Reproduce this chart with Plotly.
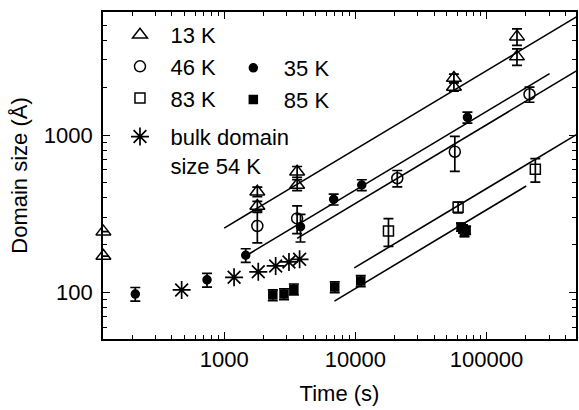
import plotly.graph_objects as go

# ---------------- data ----------------
t_13K = [120, 120, 1790, 1790, 3600, 3600, 56500, 56500, 171000, 171000]
d_13K = [243, 170, 436, 354, 584, 481, 2300, 2020, 4220, 3150]
e_13K = [0, 0, 0.07, 0.07, 0.08, 0.08, 0.06, 0.06, 0.12, 0.12]  # relative errors

t_35K = [210, 740, 1460, 3820, 6840, 11200, 71600]
d_35K = [97.5, 120, 172, 261, 390, 481, 1295]
e_35K = [0.10, 0.10, 0.10, 0.20, 0.08, 0.08, 0.08]

t_46K = [1790, 3600, 20900, 57400, 213000]
d_46K = [264, 295, 531, 783, 1815]
e_46K = [0.22, 0.20, 0.12, 0.25, 0.11]

t_83K = [17900, 60800, 236000]
d_83K = [245, 347, 605]
e_83K = [0.20, 0.08, 0.17]

t_85K = [2350, 2860, 3400, 6970, 11000, 64000, 66300, 68000, 70000]
d_85K = [96, 97.5, 104.5, 108, 118, 260, 253, 240, 248]
e_85K = [0.08, 0.08, 0.08, 0.08, 0.08, 0.06, 0.06, 0.06, 0.06]

t_bulk = [474, 1190, 1820, 2470, 3120, 3760]
d_bulk = [103.5, 124.5, 135, 147, 156, 162]

# t^(1/2) fit lines: amplitude at 1000 s, start time, end time
fit_amp = [256, 141, 116, 45.6, 33.4]
fit_t0 = [1000, 1500, 3600, 9820, 6930]
fit_t1 = [600000, 303000, 600000, 600000, 201000]
fit_exp = 0.5

x_major = [1000, 10000, 100000]
x_minor = [200, 300, 400, 500, 600, 700, 800, 900,
           2000, 3000, 4000, 5000, 6000, 7000, 8000, 9000,
           20000, 30000, 40000, 50000, 60000, 70000, 80000, 90000,
           200000, 300000, 400000]
y_major = [100, 1000]
y_minor = [60, 70, 80, 90, 200, 300, 400, 500, 600, 700, 800, 900,
           2000, 3000, 4000, 5000]

FONT = "Liberation Sans, Arial, Helvetica, sans-serif"
FS = 22

fig = go.Figure()

# fit lines
for a, t0, t1 in zip(fit_amp, fit_t0, fit_t1):
    fig.add_trace(go.Scatter(
        x=[t0, t1], y=[a * (t0 / 1000) ** fit_exp, a * (t1 / 1000) ** fit_exp],
        mode="lines", line=dict(color="black", width=1.6),
        showlegend=False, hoverinfo="skip"))


def errs(d, e):
    return [v * r for v, r in zip(d, e)]


def series(t, d, e, name, symbol, size, legend, group, lw=1.5):
    ey = None
    if e is not None:
        ey = dict(type="data", array=errs(d, e), symmetric=True,
                  color="black", thickness=1.7, width=5)
    fig.add_trace(go.Scatter(
        x=t, y=d, mode="markers", name=name,
        marker=dict(symbol=symbol, size=size, color="black",
                    line=dict(color="black", width=lw)),
        error_y=ey, cliponaxis=False,
        legend=legend, legendgroup=group))


series(t_13K, d_13K, e_13K, "13 K", "triangle-up-open", 13, "legend", "a")
series(t_46K, d_46K, e_46K, "46 K", "circle-open", 11, "legend", "a")
series(t_83K, d_83K, e_83K, "83 K", "square-open", 10, "legend", "a")
series(t_bulk, d_bulk, None, "bulk domain<br>size 54 K", "asterisk-open", 15, "legend", "b", lw=1.7)
series(t_35K, d_35K, e_35K, "35 K", "circle", 8, "legend2", "c")
series(t_85K, d_85K, e_85K, "85 K", "square", 8, "legend2", "c")

axis_common = dict(
    type="log", showline=True, linecolor="black", linewidth=1.8,
    mirror="ticks", ticks="inside", ticklen=7, tickwidth=1.4, tickcolor="black",
    showgrid=False, zeroline=False,
    tickfont=dict(family=FONT, size=FS, color="black"),
)

fig.update_xaxes(
    **axis_common, range=[2.076, 5.683], tickmode="array", tickvals=x_major,
    ticktext=[str(v) for v in x_major],
    minor=dict(tickmode="array", tickvals=x_minor, ticks="inside", ticklen=4,
               tickwidth=1.2, tickcolor="black", showgrid=False),
    title=dict(text="Time (s)", font=dict(family=FONT, size=FS, color="black"), standoff=14),
)
fig.update_yaxes(
    **axis_common, range=[1.703, 3.782], tickmode="array", tickvals=y_major,
    ticktext=[str(v) for v in y_major], ticklabelstandoff=4,
    minor=dict(tickmode="array", tickvals=y_minor, ticks="inside", ticklen=4,
               tickwidth=1.2, tickcolor="black", showgrid=False),
    title=dict(text="Domain size (Å)", font=dict(family=FONT, size=FS, color="black"), standoff=10),
)

legend_common = dict(
    font=dict(family=FONT, size=FS, color="black"),
    bgcolor="rgba(0,0,0,0)", borderwidth=0, itemwidth=51,
    xanchor="left", yanchor="top", traceorder="grouped", valign="top",
    itemclick=False, itemdoubleclick=False,
)

fig.update_layout(
    width=579, height=410,
    margin=dict(l=103, r=1, t=12, b=71),
    paper_bgcolor="white", plot_bgcolor="white",
    font=dict(family=FONT, size=FS, color="black"),
    legend=dict(**legend_common, x=0.0137, y=0.994, tracegroupgap=7),
    legend2=dict(**legend_common, x=0.2533, y=0.893, tracegroupgap=0),
)

fig.write_html("out.html")
